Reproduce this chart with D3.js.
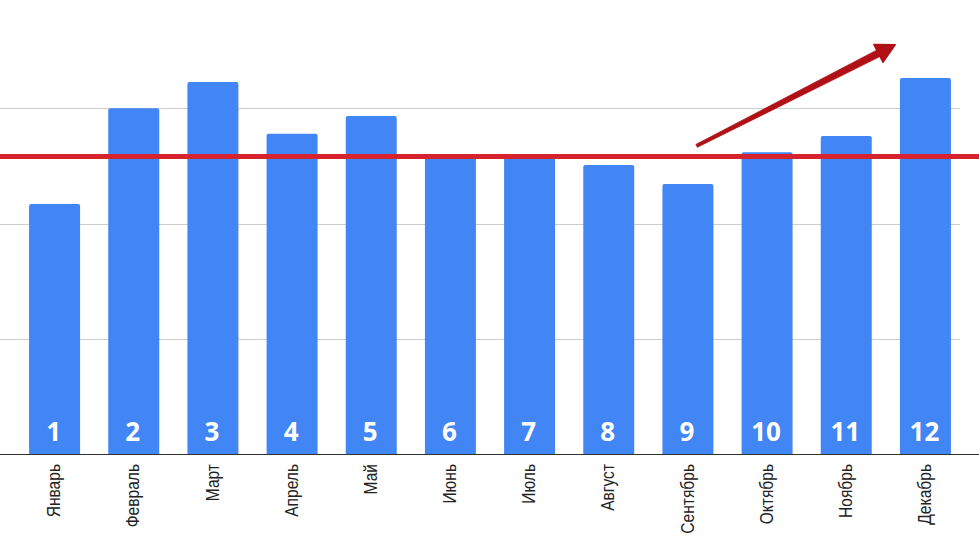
<!DOCTYPE html>
<html>
<head>
<meta charset="utf-8">
<script src="https://cdn.jsdelivr.net/npm/d3@7"></script>
<style>
  html, body { margin: 0; padding: 0; background: #fff; }
  svg { display: block; }
</style>
</head>
<body>
<svg id="chart" width="979" height="545"></svg>
<script>
const months = ["Январь","Февраль","Март","Апрель","Май","Июнь","Июль","Август","Сентябрь","Октябрь","Ноябрь","Декабрь"];
const numbers = ["1","2","3","4","5","6","7","8","9","10","11","12"];
const values = [108.5, 150, 161.4, 139, 146.7, 128.9, 128.9, 125.4, 117.2, 130.9, 138, 163.1];
const gridTicks = [50, 100, 150];
const targetValue = 129.1;
// trend arrow in (month index, value) space
const arrowFrom = [8.11, 133.7];
const arrowTo = [10.62, 177.6];

const W = 979, H = 545;
const svg = d3.select("#chart");

const x = d3.scaleBand().domain(months).range([15, 965]).paddingInner(0.356).paddingOuter(0.178);
const y = d3.scaleLinear().domain([0, 150]).range([454, 108.3]);
const bw = x.bandwidth();
const xi = d3.scaleLinear().domain([0, 11]).range([x(months[0]) + bw / 2, x(months[11]) + bw / 2]);

// gridlines
svg.append("g").selectAll("line").data(gridTicks).join("line")
  .attr("x1", 0).attr("x2", 960)
  .attr("y1", d => Math.round(y(d)) + 0.5).attr("y2", d => Math.round(y(d)) + 0.5)
  .attr("stroke", "#cccccc").attr("stroke-width", 1);

// bars with slightly rounded top corners
const r = 2;
svg.append("g").selectAll("path").data(values).join("path")
  .attr("fill", "#4285f4")
  .attr("d", (d, i) => {
    const x0 = x(months[i]), x1 = x0 + bw, y0 = y(d), yb = y(0);
    return `M${x0},${yb}V${y0 + r}Q${x0},${y0} ${x0 + r},${y0}H${x1 - r}Q${x1},${y0} ${x1},${y0 + r}V${yb}Z`;
  });

// number labels in bars
svg.append("g").selectAll("text").data(numbers).join("text")
  .attr("x", (d, i) => x(months[i]) + bw / 2 - 1)
  .attr("y", 441)
  .attr("text-anchor", "middle")
  .attr("fill", "#ffffff")
  .attr("font-family", "'Open Sans', sans-serif")
  .attr("font-weight", "bold")
  .attr("font-size", 26)
  .text(d => d);

// baseline axis
svg.append("line")
  .attr("x1", 0).attr("x2", W)
  .attr("y1", 454.5).attr("y2", 454.5)
  .attr("stroke", "#333333").attr("stroke-width", 1);

// month labels (rotated, condensed)
const xAxis = svg.append("g").attr("transform", "translate(0,454)")
  .call(d3.axisBottom(x).tickSize(0).tickPadding(0));
xAxis.select(".domain").remove();
xAxis.selectAll("text")
  .attr("font-family", "'Liberation Sans', Arial, sans-serif")
  .attr("font-size", 19)
  .attr("fill", "#222222")
  .attr("text-anchor", "end")
  .attr("transform", "rotate(-90) scale(0.82,1)")
  .attr("x", -10 / 0.82)
  .attr("y", -1)
  .attr("dy", "0.35em");

// target line
svg.append("line")
  .attr("x1", 0).attr("x2", W)
  .attr("y1", y(targetValue)).attr("y2", y(targetValue))
  .attr("stroke", "#d6232e").attr("stroke-width", 5);

// trend arrow (tapered shaft + head)
const ax0 = xi(arrowFrom[0]), ay0 = y(arrowFrom[1]);
const ax1 = xi(arrowTo[0]), ay1 = y(arrowTo[1]);
const ang = Math.atan2(ay1 - ay0, ax1 - ax0);
const ux = Math.cos(ang), uy = Math.sin(ang);
const px = -uy, py = ux;
const headLen = 19, headHalf = 10, w0 = 1.6, w1 = 3.6;
const bx = ax1 - headLen * ux, by = ay1 - headLen * uy;
const ex = bx + 2 * ux, ey = by + 2 * uy;
svg.append("path")
  .attr("d", `M${ax0 + w0 * px},${ay0 + w0 * py}L${ex + w1 * px},${ey + w1 * py}L${ex - w1 * px},${ey - w1 * py}L${ax0 - w0 * px},${ay0 - w0 * py}Z`)
  .attr("fill", "#b01116").attr("stroke", "#b01116").attr("stroke-width", 0.8).attr("stroke-linejoin", "round");
svg.append("path")
  .attr("d", `M${ax1},${ay1}L${bx + headHalf * px},${by + headHalf * py}L${bx - headHalf * px},${by - headHalf * py}Z`)
  .attr("fill", "#b01116").attr("stroke", "#b01116").attr("stroke-width", 1.5).attr("stroke-linejoin", "round");
</script>
</body>
</html>
